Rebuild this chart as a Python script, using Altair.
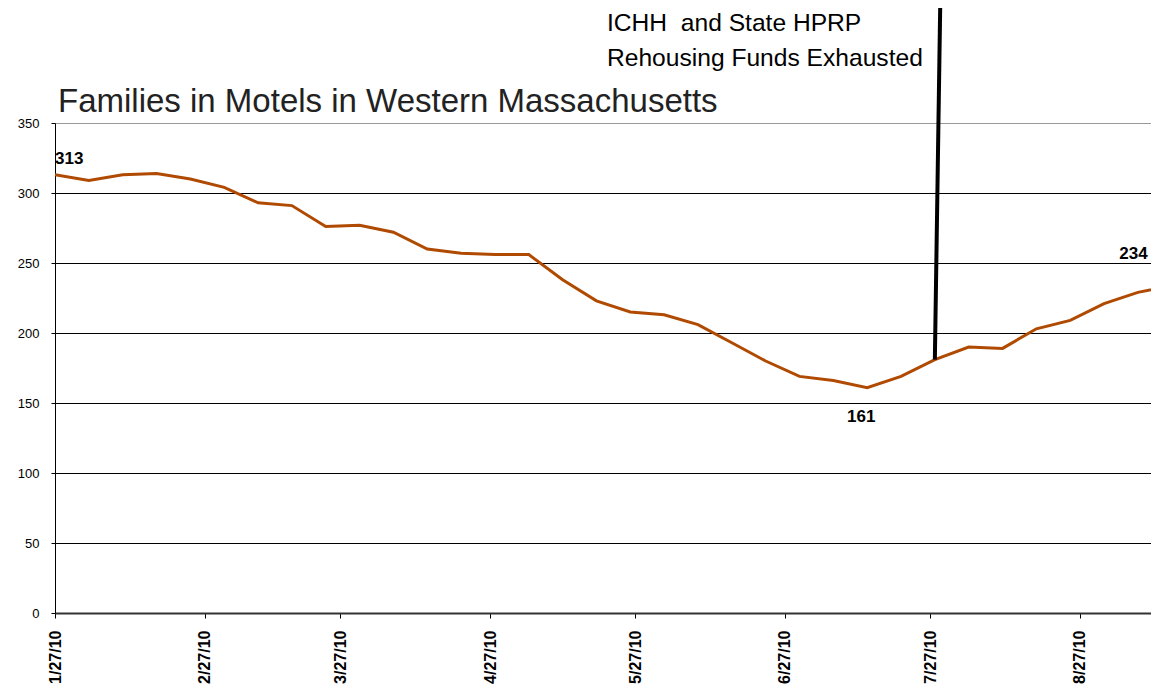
import altair as alt
import pandas as pd

# ---- data ----
week_dates = [
    "2010-01-27", "2010-02-03", "2010-02-10", "2010-02-17", "2010-02-24",
    "2010-03-03", "2010-03-10", "2010-03-17", "2010-03-24", "2010-03-31",
    "2010-04-07", "2010-04-14", "2010-04-21", "2010-04-28", "2010-05-05",
    "2010-05-12", "2010-05-19", "2010-05-26", "2010-06-02", "2010-06-09",
    "2010-06-16", "2010-06-23", "2010-06-30", "2010-07-07", "2010-07-14",
    "2010-07-21", "2010-07-28", "2010-08-04", "2010-08-11", "2010-08-18",
    "2010-08-25", "2010-09-01", "2010-09-08", "2010-09-15",
]
families = [
    313, 309, 313, 314, 310, 304, 293, 291, 276, 277,
    272, 260, 257, 256, 256, 238, 223, 215, 213, 206,
    193, 180, 169, 166, 161, 169, 181, 190, 189, 203,
    209, 221, 229, 234,
]
tick_months = [1, 2, 3, 4, 5, 6, 7, 8]  # ticks on the 27th of each month
y_ticks = [0, 50, 100, 150, 200, 250, 300, 350]

label_dates = ["2010-01-27", "2010-07-14", "2010-09-15"]
label_values = [313, 161, 234]

event_date = "2010-07-28"
event_top_date = "2010-07-29T03:00:00Z"
event_value = 181
event_text = ["ICHH\u00a0 and State HPRP", "Rehousing Funds Exhausted"]
title_text = "Families in Motels in Western Massachusetts"

FONT = "Liberation Sans"
LINE_COLOR = "#B04A00"

df = pd.DataFrame({"date": week_dates, "families": families})
labels = pd.DataFrame({"date": label_dates, "families": label_values,
                       "txt": [str(v) for v in label_values]})
event = pd.DataFrame({"date": [event_date], "date2": [event_top_date],
                      "families": [event_value]})

x_scale = alt.Scale(
    type="utc",
    domain=[alt.DateTime(year=2010, month=1, date=27, utc=True),
            alt.DateTime(year=2010, month=9, date=10, hours=17, utc=True)],
)
y_scale = alt.Scale(domain=[0, 350], nice=False, zero=True)

x_axis = alt.Axis(
    values=[alt.DateTime(year=2010, month=m, date=27, utc=True) for m in tick_months],
    labelExpr="utcFormat(datum.value, '%-m/%d/%y')",
    labelAngle=270, labelAlign="right", labelBaseline="middle",
    labelFont=FONT, labelFontSize=16, labelFontWeight="bold", labelColor="black",
    labelPadding=12, tickSize=5, tickColor="black",
    domainColor="#333333", domainWidth=2, grid=False, title=None,
    labelOverlap=False,
)
y_axis = alt.Axis(
    values=y_ticks, labelFont=FONT, labelFontSize=13, labelColor="black",
    labelPadding=12, tickSize=4, tickColor="black",
    domainColor="black", domainWidth=1,
    grid=True, gridWidth=1,
    gridColor={"condition": {"test": "datum.value === 350", "value": "#9a9a9a"},
               "value": "#000000"},
    title=None,
)

line = alt.Chart(df).mark_line(color=LINE_COLOR, strokeWidth=3, clip=True).encode(
    x=alt.X("date:T", scale=x_scale, axis=x_axis),
    y=alt.Y("families:Q", scale=y_scale, axis=y_axis),
)

def label_layer(idx, align, dx, dy):
    return alt.Chart(labels.iloc[[idx]]).mark_text(
        font=FONT, fontSize=17, fontWeight="bold", color="black",
        align=align, baseline="middle", dx=dx, dy=dy,
    ).encode(x="date:T", y="families:Q", text="txt:N")

lab_first = label_layer(0, "left", 0, -16)
lab_min = label_layer(1, "center", -6, 29)
lab_last = label_layer(2, "right", -24, -31)

rule = alt.Chart(event).mark_rule(color="black", strokeWidth=4).encode(
    x="date:T", x2="date2:T", y="families:Q", y2=alt.value(-123),
)

annot = alt.Chart(pd.DataFrame({"t": [event_text]})).mark_text(
    font=FONT, fontSize=24.6, color="black", align="left",
    baseline="alphabetic", lineHeight=35,
).encode(text="t", x=alt.value(552), y=alt.value(-92))

title = alt.Chart(pd.DataFrame({"t": [title_text]})).mark_text(
    font=FONT, fontSize=33, color="#222222", align="left", baseline="alphabetic",
).encode(text="t:N", x=alt.value(3), y=alt.value(-11))

chart = alt.layer(line, rule, lab_first, lab_min, lab_last, annot, title).properties(
    width=1096, height=490,
    autosize=alt.AutoSizeParams(type="none"),
    padding={"left": 47, "top": 115, "right": 0, "bottom": 74},
).configure_view(stroke=None).configure(background="white")

chart.save("out.html", embed_options={"renderer": "svg", "actions": False})
